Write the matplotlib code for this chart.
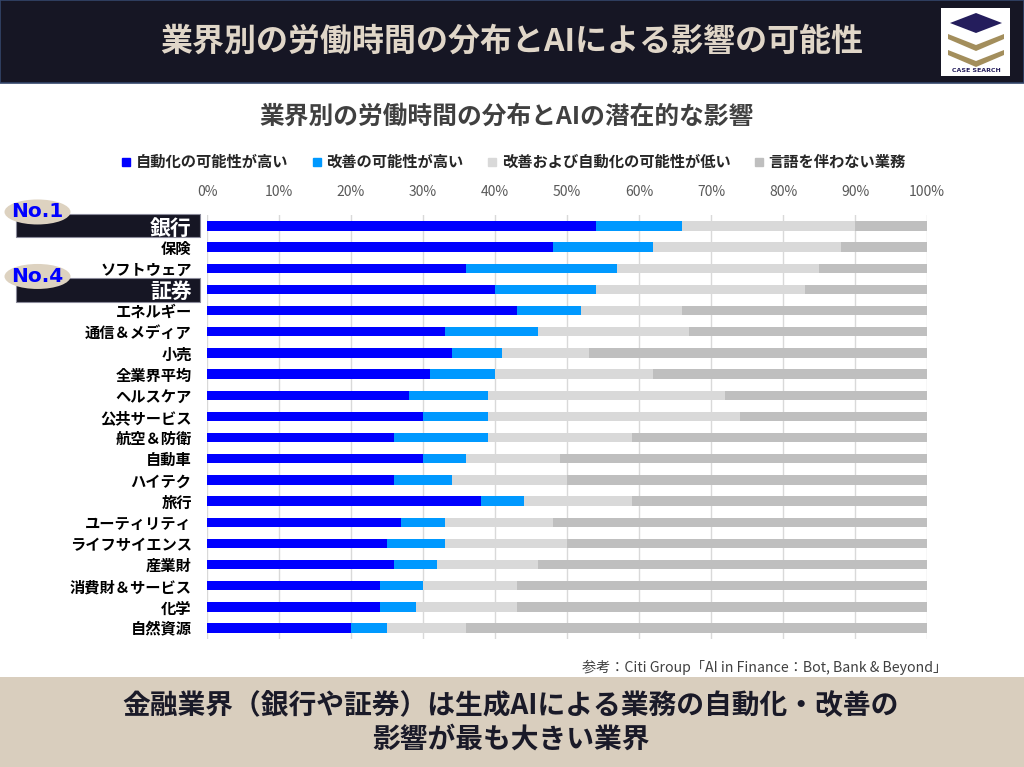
import matplotlib
matplotlib.use("Agg")
import matplotlib.pyplot as plt
from matplotlib.patches import Rectangle, Ellipse, Polygon
from matplotlib.lines import Line2D
import numpy as np

plt.rcParams['font.family'] = ['Noto Sans CJK JP', 'DejaVu Sans']

categories = ['銀行', '保険', 'ソフトウェア', '証券', 'エネルギー', '通信＆メディア', '小売',
              '全業界平均', 'ヘルスケア', '公共サービス', '航空＆防衛', '自動車', 'ハイテク',
              '旅行', 'ユーティリティ', 'ライフサイエンス', '産業財', '消費財＆サービス',
              '化学', '自然資源']
automation = [54, 48, 36, 40, 43, 33, 34, 31, 28, 30, 26, 30, 26, 38, 27, 25, 26, 24, 24, 20]
improvement = [12, 14, 21, 14, 9, 13, 7, 9, 11, 9, 13, 6, 8, 6, 6, 8, 6, 6, 5, 5]
low_potential = [24, 26, 28, 29, 14, 21, 12, 22, 33, 35, 20, 13, 16, 15, 15, 17, 14, 13, 14, 11]
non_language = [10, 12, 15, 17, 34, 33, 47, 38, 28, 26, 41, 51, 50, 41, 52, 50, 54, 57, 57, 64]
series_names = ['自動化の可能性が高い', '改善の可能性が高い', '改善および自動化の可能性が低い', '言語を伴わない業務']
colors = ['#0000FF', '#0099FF', '#D9D9D9', '#BFBFBF']
xticks = [0, 10, 20, 30, 40, 50, 60, 70, 80, 90, 100]
highlight = {'銀行': 'No.1', '証券': 'No.4'}

W, H = 1024, 767
def fx(px): return px / W
def fy(py): return 1 - py / H

fig = plt.figure(figsize=(10.24, 7.67), dpi=100)
fig.patch.set_facecolor('white')

# header banner
fig.add_artist(Rectangle((0, fy(83)), 1, 83 / H, transform=fig.transFigure,
                         facecolor='#161624', edgecolor='#34466a', lw=1.2, zorder=-2))
fig.text(fx(512), fy(42), '業界別の労働時間の分布とAIによる影響の可能性', ha='center', va='center',
         fontsize=23, fontweight='bold', color='#E0D6C8')
# logo
fig.add_artist(Rectangle((fx(941), fy(76)), 69 / W, 68 / H, transform=fig.transFigure,
                         facecolor='white', edgecolor='none', zorder=2))
fig.add_artist(Polygon([(fx(950), fy(23)), (fx(976), fy(13)), (fx(1002), fy(23)), (fx(976), fy(33))],
                       closed=True, transform=fig.transFigure, facecolor='#241D5C', edgecolor='none', zorder=3))
for off in (0, 16):
    fig.add_artist(Polygon([(fx(948), fy(34 + off)), (fx(976), fy(45 + off)), (fx(1004), fy(34 + off)),
                            (fx(1004), fy(39 + off)), (fx(976), fy(51 + off)), (fx(948), fy(39 + off))],
                           closed=True, transform=fig.transFigure, facecolor='#A38E5C', edgecolor='none', zorder=3))
fig.text(fx(976), fy(71), 'CASE SEARCH', ha='center', va='center', fontsize=4.5, fontweight='bold',
         color='#241D5C', family=['DejaVu Sans'], zorder=4)

# footer
fig.add_artist(Rectangle((0, 0), 1, fy(677), transform=fig.transFigure,
                         facecolor='#D9CEBE', edgecolor='none', zorder=-2))
fig.text(fx(511), fy(706), '金融業界（銀行や証券）は生成AIによる業務の自動化・改善の', ha='center', va='center',
         fontsize=20, fontweight='bold', color='#1a1a28')
fig.text(fx(511), fy(740), '影響が最も大きい業界', ha='center', va='center',
         fontsize=20, fontweight='bold', color='#1a1a28')
fig.text(fx(947), fy(667), '参考：Citi Group「AI in Finance：Bot, Bank & Beyond」', ha='right', va='center',
         fontsize=10.2, color='#404040')

# chart title
fig.text(fx(507), fy(117), '業界別の労働時間の分布とAIの潜在的な影響', ha='center', va='center',
         fontsize=17.8, fontweight='bold', color='#404040')

# axes
left, right = 207, 927
top, bottom = 215.4, 638.6
ax = fig.add_axes([fx(left), fy(bottom), (right - left) / W, (bottom - top) / H])
y = np.arange(len(categories))
data = [automation, improvement, low_potential, non_language]
lefts = np.zeros(len(categories))
for vals, c in zip(data, colors):
    ax.barh(y, vals, left=lefts, height=0.44, color=c, zorder=3)
    lefts += np.array(vals)
ax.set_xlim(0, 100)
ax.set_ylim(len(categories) - 0.5, -0.5)
ax.set_xticks(xticks)
ax.set_xticklabels([f'{t}%' for t in xticks], fontsize=10, color='#595959',
                   family=['Liberation Sans Narrow', 'Noto Sans CJK JP'])
ax.xaxis.tick_top()
ax.tick_params(axis='x', length=0, pad=12)
ax.set_yticks(y)
ax.set_yticklabels(categories, fontsize=11, fontweight='bold', color='black')
ax.tick_params(axis='y', length=0, pad=11)
for lbl in ax.get_yticklabels():
    if lbl.get_text() in highlight:
        lbl.set_color('white')
        lbl.set_fontsize(15)
ax.grid(axis='x', color='#D9D9D9', lw=1, zorder=0)
for s in ax.spines.values():
    s.set_visible(False)

# highlight boxes and badges
row_h = (bottom - top) / len(categories)
box_shift = {'銀行': 0.0, '証券': 1.0}
for i, cat in enumerate(categories):
    if cat in highlight:
        cy = top + row_h * (i + 0.5) + box_shift[cat]
        fig.add_artist(Rectangle((fx(16), fy(cy + 11.5)), (200 - 16) / W, 23.5 / H, transform=fig.transFigure,
                                 facecolor='#161624', edgecolor='#8a8a9a', lw=0.8, zorder=-1))
        ecy = cy - 14
        fig.add_artist(Ellipse((fx(37.5), fy(ecy)), 66 / W, 25 / H, transform=fig.transFigure,
                               facecolor='#DDD2C0', edgecolor='none', zorder=-0.5))
        fig.text(fx(37), fy(ecy), highlight[cat], ha='center', va='center', fontsize=14.5,
                 fontweight='bold', color='#0000FF', family=['DejaVu Sans'])

# legend
handles = [Line2D([0], [0], marker='s', linestyle='none', markersize=6, markerfacecolor=c,
                  markeredgecolor=c) for c in colors]
leg = fig.legend(handles, series_names, loc='center', bbox_to_anchor=(fx(513), fy(162)), ncol=4,
                 frameon=False, handlelength=0.8, handletextpad=0.2, columnspacing=1.5,
                 prop={'size': 11, 'weight': 'bold'})
for t in leg.get_texts():
    t.set_color('#262626')

fig.savefig('out.png', dpi=100)
